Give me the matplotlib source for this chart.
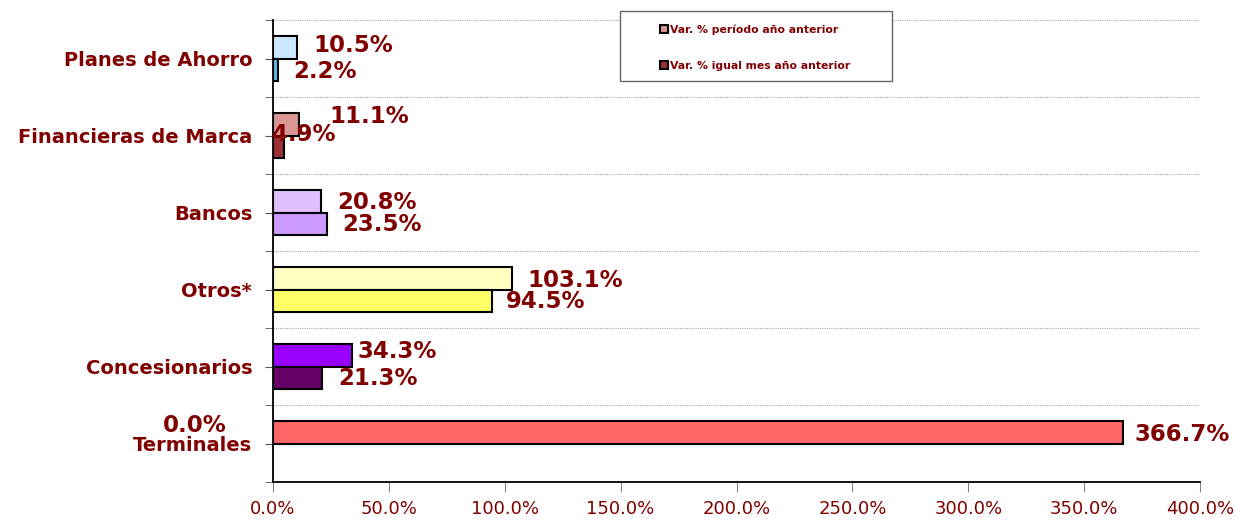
import matplotlib.pyplot as plt
from matplotlib.lines import Line2D
from matplotlib.patches import Rectangle
import numpy as np

# datos (de abajo hacia arriba)
categorias = ['Terminales', 'Concesionarios', 'Otros*', 'Bancos',
              'Financieras de Marca', 'Planes de Ahorro']
var_periodo = [366.7, 34.3, 103.1, 20.8, 11.1, 10.5]
var_mes = [0.0, 21.3, 94.5, 23.5, 4.9, 2.2]
x_ticks = [0, 50, 100, 150, 200, 250, 300, 350, 400]
x_tick_labels = ['0.0%', '50.0%', '100.0%', '150.0%', '200.0%',
                 '250.0%', '300.0%', '350.0%', '400.0%']
leyenda = ['Var. % período año anterior', 'Var. % igual mes año anterior']

colores_periodo = ['#FF6666', '#9900FF', '#FFFFC0', '#E0C0FF', '#D99694', '#CCE8FF']
colores_mes = ['#FF6666', '#660066', '#FFFF66', '#CC99FF', '#993333', '#55BBEE']

# desplazamiento de las etiquetas en pixeles (dx, dy positivo hacia abajo)
off_periodo = [(12, 2), (5, -4), (15, 2), (16, 1), (31, -8), (16, -2)]
off_mes = [(-110, -29), (16, 1), (14, 1), (15, 1), (-12, -12), (15, 2)]

ROJO = '#800000'
W, H = 1235, 521

fig = plt.figure(figsize=(W / 100, H / 100), dpi=100)
ax = fig.add_axes([273 / W, 1 - 482 / H, (1200 - 273) / W, (482 - 20) / H])

y = np.arange(len(categorias))
h = 0.286
bars_p = ax.barh(y + h / 2, var_periodo, height=h, color=colores_periodo,
                 edgecolor='black', linewidth=1.5, zorder=3)
bars_m = ax.barh(y - h / 2, var_mes, height=h, color=colores_mes,
                 edgecolor='black', linewidth=1.5, zorder=3)
# la barra 0.0% no se dibuja
bars_m[0].set_visible(False)

px = 72 / 100
for bars, vals, offs in [(bars_p, var_periodo, off_periodo), (bars_m, var_mes, off_mes)]:
    for b, v, (dx, dy) in zip(bars, vals, offs):
        yc = b.get_y() + b.get_height() / 2
        ax.annotate(f'{v:.1f}%', (v, yc), xytext=(dx * px, -dy * px),
                    textcoords='offset points', ha='left', va='center',
                    fontsize=16.5, fontweight='bold', color=ROJO, zorder=5)

ax.set_xlim(0, 400)
ax.set_ylim(-0.5, len(categorias) - 0.5)
ax.set_xticks(x_ticks)
ax.set_xticklabels(x_tick_labels, fontsize=13, color=ROJO)
ax.set_yticks(y)
ax.set_yticklabels(categorias, fontsize=14, fontweight='bold', color=ROJO)
ax.set_yticks(np.arange(len(categorias) + 1) - 0.5, minor=True)
ax.tick_params(axis='y', which='both', length=6, color='#555555', pad=9)
ax.tick_params(axis='x', length=7, color='#888888', pad=6)

for g in np.arange(len(categorias)) + 0.5:
    ax.axhline(g, color='#aaaaaa', linestyle=(0, (1, 1)), linewidth=0.8, zorder=1)

ax.spines['top'].set_visible(False)
ax.spines['right'].set_visible(False)
ax.spines['left'].set_linewidth(1.3)
ax.spines['bottom'].set_linewidth(1.3)

# leyenda
fig.patches.append(Rectangle((620 / W, 1 - 81 / H), 272 / W, 70 / H,
                             transform=fig.transFigure, facecolor='white',
                             edgecolor='#666666', linewidth=1, zorder=10))
handles = [Line2D([], [], linestyle='none', marker='s', markersize=6,
                  markerfacecolor=c, markeredgecolor='black', markeredgewidth=1.5)
           for c in ['#D99694', '#993333']]
leg = fig.legend(handles, leyenda, loc='upper left',
                 bbox_to_anchor=(651 / W, 1 - 15 / H), frameon=False,
                 handlelength=0.6, handletextpad=0.25, labelspacing=2.35,
                 prop={'size': 7.8, 'weight': 'bold'})
leg.set_zorder(11)
for t in leg.get_texts():
    t.set_color(ROJO)

plt.savefig('out.png', dpi=100)
